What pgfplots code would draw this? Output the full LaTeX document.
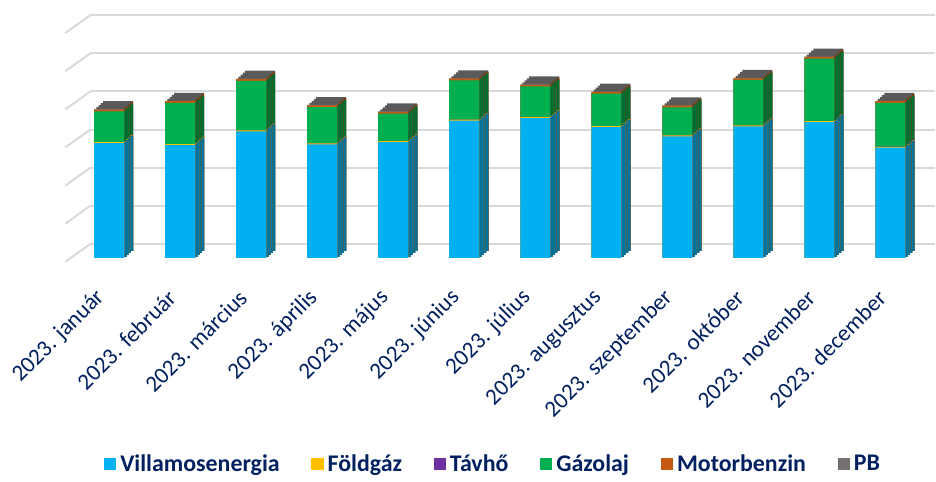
\documentclass[border=0pt]{standalone}
\usepackage{pgfplots}
\usepackage{pgfplotstable}
\pgfplotsset{compat=1.18}
\usepackage{fontspec}
\setmainfont{Carlito}
\definecolor{navy}{HTML}{002060}
\definecolor{gridc}{HTML}{D9D9D9}
\definecolor{cvill}{HTML}{00B0F0}
\definecolor{cvillD}{HTML}{00739E}
\definecolor{cfold}{HTML}{FFC000}
\definecolor{cfoldD}{HTML}{B08600}
\definecolor{ctav}{HTML}{7030A0}
\definecolor{ctavD}{HTML}{4A2070}
\definecolor{cgaz}{HTML}{00B050}
\definecolor{cgazD}{HTML}{006E30}
\definecolor{cmot}{HTML}{C55A11}
\definecolor{cmotD}{HTML}{8A3F0C}
\definecolor{cpb}{HTML}{767171}
\definecolor{cpbD}{HTML}{4A4747}
\definecolor{cpbT}{HTML}{5A5A5A}

\pgfplotstableread{
x  vill  fold  tav   gaz   mot   pb
0  30.1  0.25  0.02  8.1   0.45  0.1
1  29.6  0.25  0.02  10.8  0.45  0.1
2  33.2  0.25  0.02  13.0  0.45  0.1
3  29.8  0.25  0.02  9.5   0.45  0.1
4  30.4  0.25  0.02  7.2   0.45  0.1
5  36.0  0.25  0.02  10.3  0.45  0.1
6  36.7  0.25  0.02  8.0   0.45  0.1
7  34.3  0.25  0.02  8.5   0.45  0.1
8  31.9  0.25  0.02  7.3   0.45  0.1
9  34.5  0.25  0.02  11.9  0.45  0.1
10 35.6  0.25  0.02  16.4  0.45  0.1
11 28.9  0.25  0.02  11.5  0.45  0.1
}\datatable

% top face step: #1 xshift, #2 yshift
\newcommand\topstep[2]{%
\addplot[ybar, bar width=15pt, bar shift=0pt, fill=cpbT, draw=none, xshift=#1, yshift=#2, forget plot]
  table[x=x, y expr=\thisrow{vill}+\thisrow{fold}+\thisrow{tav}+\thisrow{gaz}+\thisrow{mot}+\thisrow{pb}] {\datatable};}
% side face step: #1 bar shift, #2 yshift
\newcommand\sidestep[2]{%
\addplot[ybar, bar width=1.35pt, bar shift=#1, fill=cpbD, draw=none, yshift=#2, forget plot]
  table[x=x, y expr=\thisrow{vill}+\thisrow{fold}+\thisrow{tav}+\thisrow{gaz}+\thisrow{mot}+\thisrow{pb}] {\datatable};
\addplot[ybar, bar width=1.35pt, bar shift=#1, fill=cmotD, draw=none, yshift=#2, forget plot]
  table[x=x, y expr=\thisrow{vill}+\thisrow{fold}+\thisrow{tav}+\thisrow{gaz}+\thisrow{mot}] {\datatable};
\addplot[ybar, bar width=1.35pt, bar shift=#1, fill=cgazD, draw=none, yshift=#2, forget plot]
  table[x=x, y expr=\thisrow{vill}+\thisrow{fold}+\thisrow{tav}+\thisrow{gaz}] {\datatable};
\addplot[ybar, bar width=1.35pt, bar shift=#1, fill=ctavD, draw=none, yshift=#2, forget plot]
  table[x=x, y expr=\thisrow{vill}+\thisrow{fold}+\thisrow{tav}] {\datatable};
\addplot[ybar, bar width=1.35pt, bar shift=#1, fill=cfoldD, draw=none, yshift=#2, forget plot]
  table[x=x, y expr=\thisrow{vill}+\thisrow{fold}] {\datatable};
\addplot[ybar, bar width=1.35pt, bar shift=#1, fill=cvillD, draw=none, yshift=#2, forget plot]
  table[x=x, y=vill] {\datatable};}

\begin{document}
\begin{tikzpicture}
\begin{axis}[
  scale only axis,
  width=424.5pt, height=129.5pt,
  xmin=-0.266, xmax=11.63,
  ymin=0, ymax=67.6,
  clip=false,
  axis line style={draw=none},
  major tick length=0pt,
  ytick={3.655,13.655,23.655,33.655,43.655,53.655,63.655},
  yticklabels={},
  ymajorgrids,
  major grid style={draw=gridc, line width=1pt},
  xtick={0,...,11},
  xticklabels={2023. január,2023. február,2023. március,2023. április,2023. május,2023. június,2023. július,2023. augusztus,2023. szeptember,2023. október,2023. november,2023. december},
  xticklabel style={xshift=-1.6pt, yshift=-15.75pt, rotate=45, anchor=east, font=\fontsize{11.6}{13}\selectfont, text=navy},
  legend style={at={(0.478,-0.80)}, anchor=center, draw=none, fill=none,
    legend columns=6, font=\bfseries\fontsize{12}{14}\selectfont, text=navy,
    /tikz/every even column/.append style={column sep=13.9pt}},
  legend image code/.code={\fill[#1] (-1.5pt,-3.2pt) rectangle (4.7pt,3.2pt);},
]
% slanted front grid parts
\addplot[gridc, line width=1pt, unbounded coords=jump, forget plot] coordinates {
(-0.617,-1.044) (-0.266,3.655) (-0.266,nan)
(-0.617,8.956) (-0.266,13.655) (-0.266,nan)
(-0.617,18.956) (-0.266,23.655) (-0.266,nan)
(-0.617,28.956) (-0.266,33.655) (-0.266,nan)
(-0.617,38.956) (-0.266,43.655) (-0.266,nan)
(-0.617,48.956) (-0.266,53.655) (-0.266,nan)
(-0.617,58.956) (-0.266,63.655)
};
% top faces (stepped extrusion)
\topstep{4.5pt}{4pt}
\topstep{3.375pt}{3pt}
\topstep{2.25pt}{2pt}
\topstep{1.125pt}{1pt}
% side faces (stepped)
\sidestep{8.0625pt}{0.5pt}
\sidestep{9.1875pt}{1.5pt}
\sidestep{10.3125pt}{2.5pt}
\sidestep{11.4375pt}{3.5pt}
% front faces
\addplot[ybar, bar width=15pt, bar shift=0pt, fill=cpb, draw=none, forget plot]
  table[x=x, y expr=\thisrow{vill}+\thisrow{fold}+\thisrow{tav}+\thisrow{gaz}+\thisrow{mot}+\thisrow{pb}] {\datatable};
\addplot[ybar, bar width=15pt, bar shift=0pt, fill=cmot, draw=none, forget plot]
  table[x=x, y expr=\thisrow{vill}+\thisrow{fold}+\thisrow{tav}+\thisrow{gaz}+\thisrow{mot}] {\datatable};
\addplot[ybar, bar width=15pt, bar shift=0pt, fill=cgaz, draw=none, forget plot]
  table[x=x, y expr=\thisrow{vill}+\thisrow{fold}+\thisrow{tav}+\thisrow{gaz}] {\datatable};
\addplot[ybar, bar width=15pt, bar shift=0pt, fill=ctav, draw=none, forget plot]
  table[x=x, y expr=\thisrow{vill}+\thisrow{fold}+\thisrow{tav}] {\datatable};
\addplot[ybar, bar width=15pt, bar shift=0pt, fill=cfold, draw=none, forget plot]
  table[x=x, y expr=\thisrow{vill}+\thisrow{fold}] {\datatable};
\addplot[ybar, bar width=15pt, bar shift=0pt, fill=cvill, draw=none, forget plot]
  table[x=x, y=vill] {\datatable};
% legend
\addlegendimage{fill=cvill, draw=none}\addlegendentry{Villamosenergia}
\addlegendimage{fill=cfold, draw=none}\addlegendentry{Földgáz}
\addlegendimage{fill=ctav, draw=none}\addlegendentry{Távhő}
\addlegendimage{fill=cgaz, draw=none}\addlegendentry{Gázolaj}
\addlegendimage{fill=cmot, draw=none}\addlegendentry{Motorbenzin}
\addlegendimage{fill=cpb, draw=none}\addlegendentry{PB}
\end{axis}
\end{tikzpicture}
\end{document}
